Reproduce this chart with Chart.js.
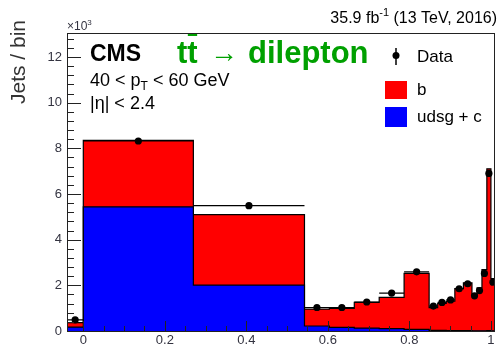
<!DOCTYPE html>
<html>
<head>
<meta charset="utf-8">
<title>b-tag discriminator, 40 < pT < 60 GeV</title>
<script src="https://cdn.jsdelivr.net/npm/chart.js@4/dist/chart.umd.min.js"></script>
<style>
  html, body { margin: 0; padding: 0; background: #fff; }
  #wrap { width: 499px; height: 345px; position: relative; }
</style>
</head>
<body>
<div id="wrap"><canvas id="btag-chart"></canvas></div>
<script>
// bin edges of the discriminator (first bin: jets below 0)
const binEdges = [-0.04, 0, 0.27, 0.5426, 0.6037, 0.6648, 0.7259, 0.787, 0.8484,
                  0.8694, 0.8904, 0.9115, 0.9325, 0.9535, 0.966, 0.978, 0.99, 1.0, 1.01];
// jets per bin, in units of 10^3
const udsgJets = [0.17, 5.44, 2.01, 0.22, 0.16, 0.13, 0.10, 0.07, 0.03,
                  0.03, 0.02, 0.02, 0.02, 0.01, 0.01, 0.01, 0.02, 0.01];
const bJets    = [0.20, 2.91, 3.09, 0.74, 0.83, 1.12, 1.37, 2.45, 0.99,
                  1.18, 1.29, 1.84, 2.09, 1.59, 1.88, 2.68, 7.08, 2.29];
const dataJets = [0.49, 8.32, 5.49, 1.03, 1.03, 1.27, 1.66, 2.59, 1.09,
                  1.25, 1.36, 1.85, 2.07, 1.54, 1.77, 2.52, 6.90, 2.14];
const xTickValues = [0, 0.2, 0.4, 0.6, 0.8, 1];
const yTickValues = [0, 2, 4, 6, 8, 10, 12];

const FONT = '"Liberation Sans", Arial, Helvetica, sans-serif';
const TICK_COLOR = '#333340';

// histogram outline as a stepped line: one point per lower edge, plus the last upper edge
function stepPoints(values) {
    const pts = values.map((v, i) => ({ x: binEdges[i], y: v }));
    pts.push({ x: binEdges[values.length], y: values[values.length - 1] });
    return pts;
}

const stackTotal = bJets.map((b, i) => b + udsgJets[i]);
const binCentres = dataJets.map((_, i) => (binEdges[i] + binEdges[i + 1]) / 2);

// horizontal bars of the data points, split by null gaps
const dataBars = [];
dataJets.forEach((v, i) => {
    dataBars.push({ x: binEdges[i], y: v });
    dataBars.push({ x: binEdges[i + 1], y: v });
    dataBars.push({ x: binEdges[i + 1], y: null });
});

// inner ticks, frame and the texts around the plot
const decorations = {
    id: 'decorations',
    afterDatasetsDraw(chart) {
        const { ctx, chartArea: a, scales: { x, y } } = chart;
        ctx.save();
        ctx.strokeStyle = '#222';
        ctx.lineWidth = 1;
        ctx.beginPath();
        for (let i = 0; i <= 20; i++) {
            const v = i * 0.05;
            const px = Math.round(x.getPixelForValue(v)) + 0.5;
            const len = i % 4 === 0 ? 10 : 5;
            ctx.moveTo(px, a.bottom);
            ctx.lineTo(px, a.bottom - len);
        }
        for (let i = 0; i <= 32; i++) {
            const v = i * 0.4;
            if (v > y.max) break;
            const py = Math.round(y.getPixelForValue(v)) + 0.5;
            const len = i % 5 === 0 ? 14 : 7;
            ctx.moveTo(a.left, py);
            ctx.lineTo(a.left + len, py);
        }
        ctx.stroke();
        ctx.strokeRect(a.left + 0.5, a.top + 0.5, a.right - a.left - 1, a.bottom - a.top);
        ctx.restore();
    },
    afterDraw(chart) {
        const { ctx } = chart;
        ctx.save();
        ctx.textBaseline = 'alphabetic';
        ctx.fillStyle = '#000';

        // luminosity label
        ctx.textAlign = 'right';
        ctx.font = '16px ' + FONT;
        const tail = ' (13 TeV, 2016)';
        ctx.fillText(tail, 497, 23);
        let xr = 497 - ctx.measureText(tail).width;
        ctx.font = '11px ' + FONT;
        ctx.fillText('-1', xr, 16);
        xr -= ctx.measureText('-1').width;
        ctx.font = '16px ' + FONT;
        ctx.fillText('35.9 fb', xr, 23);

        // axis multiplier and y title
        ctx.textAlign = 'left';
        ctx.fillStyle = TICK_COLOR;
        ctx.font = '12px ' + FONT;
        ctx.fillText('\u00d710', 67, 30);
        const mw = ctx.measureText('\u00d710').width;
        ctx.font = '8px ' + FONT;
        ctx.fillText('3', 67 + mw, 25);

        ctx.save();
        ctx.translate(25, 20);
        ctx.rotate(-Math.PI / 2);
        ctx.textAlign = 'right';
        ctx.fillStyle = '#333';
        ctx.font = '21px ' + FONT;
        ctx.fillText('Jets / bin', 0, 0);
        ctx.restore();

        // CMS label and selection
        ctx.fillStyle = '#000';
        ctx.font = 'bold 23px ' + FONT;
        ctx.fillText('CMS', 90, 61);

        ctx.font = '18px ' + FONT;
        let xl = 90;
        ctx.fillText('40 < p', xl, 86);
        xl += ctx.measureText('40 < p').width;
        ctx.font = '12px ' + FONT;
        ctx.fillText('T', xl, 90);
        xl += ctx.measureText('T').width;
        ctx.font = '18px ' + FONT;
        ctx.fillText(' < 60 GeV', xl, 86);
        ctx.fillText('|\u03b7| < 2.4', 90, 109);

        // channel label
        ctx.fillStyle = '#00a000';
        ctx.font = 'bold 31px ' + FONT;
        ctx.fillText('tt', 177, 63);
        const tw = ctx.measureText('t').width;
        ctx.fillRect(177 + tw + 0.5, 34, tw - 1, 2);
        ctx.font = '28px ' + FONT;
        ctx.fillText('\u2192', 210, 62);
        ctx.font = 'bold 31px ' + FONT;
        ctx.fillText('dilepton', 248, 63);

        // legend
        ctx.fillStyle = '#000';
        ctx.strokeStyle = '#000';
        ctx.lineWidth = 1.5;
        ctx.beginPath();
        ctx.moveTo(396, 48);
        ctx.lineTo(396, 65);
        ctx.stroke();
        ctx.beginPath();
        ctx.arc(396, 55.5, 3.5, 0, Math.PI * 2);
        ctx.fill();
        ctx.fillStyle = '#ff0000';
        ctx.fillRect(385, 81, 22, 18);
        ctx.fillStyle = '#0000ff';
        ctx.fillRect(385, 107, 22, 20);
        ctx.fillStyle = '#000';
        ctx.font = '17px ' + FONT;
        ctx.fillText('Data', 417, 62);
        ctx.fillText('b', 417, 95);
        ctx.fillText('udsg + c', 417, 122);
        ctx.restore();
    }
};

document.addEventListener("DOMContentLoaded", () => {
    const ctx = document.getElementById('btag-chart');

    new Chart(ctx, {
        type: 'line',
        data: {
            datasets: [
                {
                    label: 'Data',
                    data: dataJets.map((v, i) => ({ x: binCentres[i], y: v })),
                    showLine: false,
                    pointRadius: 3.6,
                    pointBackgroundColor: '#000',
                    pointBorderWidth: 0,
                    order: 0
                },
                {
                    label: 'Data bin width',
                    data: dataBars,
                    borderColor: '#000',
                    borderWidth: 1.2,
                    pointRadius: 0,
                    spanGaps: false,
                    fill: false,
                    order: 1
                },
                {
                    label: 'udsg + c',
                    data: stepPoints(udsgJets),
                    stepped: 'before',
                    borderColor: '#000',
                    borderWidth: 1.2,
                    backgroundColor: '#0000ff',
                    pointRadius: 0,
                    fill: 'origin',
                    order: 2
                },
                {
                    label: 'b',
                    data: stepPoints(stackTotal),
                    stepped: 'before',
                    borderColor: '#000',
                    borderWidth: 1.2,
                    backgroundColor: '#ff0000',
                    pointRadius: 0,
                    fill: 'origin',
                    order: 3
                }
            ]
        },
        options: {
            responsive: true,
            maintainAspectRatio: false,
            animation: false,
            layout: { padding: { top: 33, right: 3, left: 0, bottom: 0 } },
            plugins: {
                legend: { display: false },
                tooltip: { enabled: false }
            },
            scales: {
                x: {
                    type: 'linear',
                    min: -0.04,
                    max: 1.01,
                    grid: { display: false, drawTicks: false },
                    border: { display: false },
                    afterBuildTicks: axis => { axis.ticks = xTickValues.map(v => ({ value: v })); },
                    afterFit: axis => { axis.height = 14; },
                    ticks: {
                        padding: 2,
                        color: TICK_COLOR,
                        font: { family: FONT, size: 13 },
                        maxRotation: 0,
                        autoSkip: false,
                        callback: v => String(v)
                    }
                },
                y: {
                    type: 'linear',
                    min: 0,
                    max: 13.05,
                    grid: { display: false, drawTicks: false },
                    border: { display: false },
                    afterBuildTicks: axis => { axis.ticks = yTickValues.map(v => ({ value: v })); },
                    afterFit: axis => { axis.width = 67; },
                    ticks: {
                        padding: 5,
                        color: TICK_COLOR,
                        font: { family: FONT, size: 13 },
                        autoSkip: false,
                        callback: v => String(v)
                    }
                }
            }
        },
        plugins: [decorations]
    });
});
</script>
</body>
</html>
